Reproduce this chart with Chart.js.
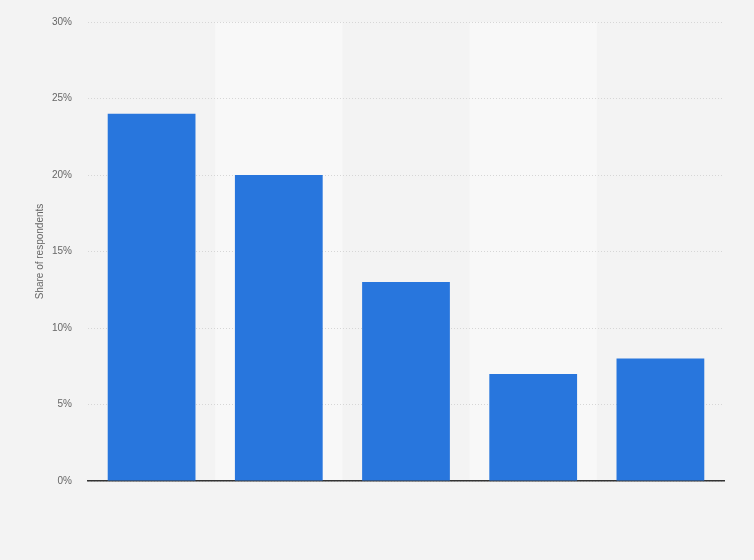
<!DOCTYPE html>
<html>
<head>
<meta charset="utf-8">
<script src="https://cdn.jsdelivr.net/npm/chart.js@4"></script>
<style>
  html, body { margin: 0; padding: 0; background: #f3f3f3; }
  #wrap { width: 754px; height: 560px; }
</style>
</head>
<body>
<div id="wrap"><canvas id="chart"></canvas></div>
<script>
const categories = ["1", "2", "3", "4", "5"];
const shares = [24, 20, 13, 7, 8];
const yTicks = [0, 5, 10, 15, 20, 25, 30];

// light stripes behind every second category, under the grid
const bandPlugin = {
    id: "bands",
    beforeDraw: (chart) => {
        const { ctx, chartArea, scales } = chart;
        const x = scales.x;
        const step = x.getPixelForTick(1) - x.getPixelForTick(0);
        ctx.save();
        ctx.fillStyle = "#f8f8f8";
        categories.forEach((c, i) => {
            if (i % 2 === 1) {
                const cx = x.getPixelForTick(i);
                ctx.fillRect(cx - step / 2, chartArea.top, step, chartArea.bottom - chartArea.top);
            }
        });
        ctx.restore();
    },
};

new Chart(document.getElementById("chart"), {
    type: "bar",
    data: {
        labels: categories,
        datasets: [
            {
                data: shares,
                backgroundColor: "#2876dd",
                barPercentage: 0.69,
                categoryPercentage: 1,
            },
        ],
    },
    options: {
        responsive: true,
        maintainAspectRatio: false,
        animation: false,
        layout: { padding: { top: 20, right: 30, left: 0, bottom: 0 } },
        plugins: { legend: { display: false }, tooltip: { enabled: false } },
        scales: {
            x: {
                grid: { display: false },
                border: { display: true, color: "#333", width: 1.5 },
                ticks: { display: false },
                afterFit: (scale) => { scale.height = 79; },
            },
            y: {
                min: 0,
                max: 30,
                afterBuildTicks: (scale) => { scale.ticks = yTicks.map((v) => ({ value: v })); },
                afterFit: (scale) => { scale.width = 88; },
                border: { display: false, dash: [1, 2] },
                grid: { color: "#d6d6d6", drawTicks: false },
                ticks: {
                    padding: 16,
                    color: "#666",
                    font: { family: "Liberation Sans", size: 10 },
                    callback: (v) => v + "%",
                },
                title: {
                    display: true,
                    text: "Share of respondents",
                    color: "#666",
                    font: { family: "Liberation Sans", size: 10 },
                    padding: { top: 34, bottom: 0 },
                },
            },
        },
    },
    plugins: [bandPlugin],
});
</script>
</body>
</html>
